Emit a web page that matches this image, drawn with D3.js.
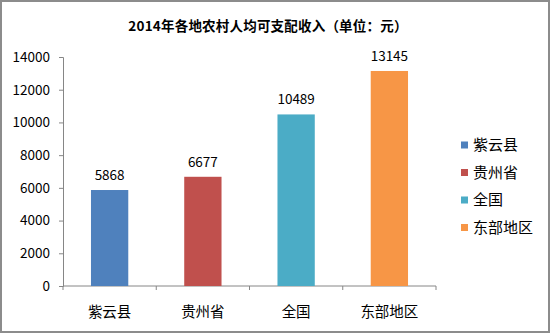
<!DOCTYPE html>
<html>
<head>
<meta charset="utf-8">
<script src="https://cdn.jsdelivr.net/npm/d3@7"></script>
<style>
  html, body { margin: 0; padding: 0; background: #fff; }
  svg { display: block; }
</style>
</head>
<body>
<svg id="chart" width="550" height="333"></svg>
<script>
// Rural per-capita disposable income, 2014 (yuan)
const categories = ["紫云县", "贵州省", "全国", "东部地区"];
const incomes = [5868, 6677, 10489, 13145];
const barColors = ["#4F81BD", "#C0504D", "#4BACC6", "#F79646"];
const yTicks = [0, 2000, 4000, 6000, 8000, 10000, 12000, 14000];
const titleText = "2014年各地农村人均可支配收入（单位：元）";

const W = 550, H = 333;
const margin = { left: 63, right: 114, top: 57, bottom: 47 };
const svg = d3.select("#chart");
const font = "'Noto Sans CJK SC', 'Liberation Sans', sans-serif";

// outer frame
svg.append("rect")
  .attr("x", 1).attr("y", 1).attr("width", W - 2).attr("height", H - 2)
  .attr("fill", "#fff").attr("stroke", "#8c8c8c").attr("stroke-width", 2);

// title
svg.append("text")
  .attr("x", 268).attr("y", 31)
  .attr("text-anchor", "middle")
  .attr("font-family", font).attr("font-weight", "bold")
  .attr("font-size", 13.5).attr("fill", "#000")
  .attr("letter-spacing", 0.2)
  .text(titleText);

const x = d3.scaleBand()
  .domain(categories)
  .range([margin.left, W - margin.right])
  .paddingInner(0.6).paddingOuter(0.3);

// band edges for the category tick marks
const xEdges = d3.scaleBand().domain(categories)
  .range([margin.left, W - margin.right]).padding(0);

const y = d3.scaleLinear().domain([0, 14000]).range([H - margin.bottom, margin.top]);

// y axis
const yAxis = svg.append("g")
  .attr("transform", `translate(${margin.left},0)`)
  .call(d3.axisLeft(y).tickValues(yTicks).tickSize(4).tickPadding(9).tickFormat(d3.format("d")));
yAxis.select(".domain").attr("stroke", "#868686");
yAxis.selectAll(".tick line").attr("stroke", "#868686");
yAxis.selectAll(".tick text")
  .attr("font-family", font).attr("font-size", 13.5).attr("fill", "#000");

// x axis
const xAxisY = y(0);
const xg = svg.append("g");
xg.append("line")
  .attr("x1", margin.left).attr("x2", W - margin.right)
  .attr("y1", xAxisY).attr("y2", xAxisY)
  .attr("stroke", "#868686");
const edges = categories.map(c => xEdges(c)).concat([W - margin.right]);
xg.selectAll("line.tk").data(edges).join("line").attr("class", "tk")
  .attr("x1", d => d).attr("x2", d => d)
  .attr("y1", xAxisY).attr("y2", xAxisY + 4)
  .attr("stroke", "#868686");
xg.selectAll("text").data(categories).join("text")
  .attr("x", d => xEdges(d) + xEdges.bandwidth() / 2)
  .attr("y", xAxisY + 31)
  .attr("text-anchor", "middle")
  .attr("font-family", font).attr("font-size", 14.5).attr("fill", "#000")
  .text(d => d);

// bars
svg.append("g").selectAll("rect").data(categories).join("rect")
  .attr("x", d => x(d))
  .attr("width", x.bandwidth())
  .attr("y", (d, i) => y(incomes[i]))
  .attr("height", (d, i) => y(0) - y(incomes[i]))
  .attr("fill", (d, i) => barColors[i]);

// value labels
svg.append("g").selectAll("text").data(categories).join("text")
  .attr("x", d => x(d) + x.bandwidth() / 2)
  .attr("y", (d, i) => y(incomes[i]) - 10)
  .attr("text-anchor", "middle")
  .attr("font-family", font).attr("font-size", 13.5).attr("fill", "#000")
  .text((d, i) => incomes[i]);

// legend
const legend = svg.append("g").attr("transform", "translate(461,0)");
const rows = legend.selectAll("g").data(categories).join("g")
  .attr("transform", (d, i) => `translate(0,${145 + i * 27.5})`);
rows.append("rect")
  .attr("x", 0).attr("y", -3.5).attr("width", 7).attr("height", 7)
  .attr("fill", (d, i) => barColors[i]);
rows.append("text")
  .attr("x", 12).attr("y", 0).attr("dy", "0.36em")
  .attr("font-family", font).attr("font-size", 15).attr("fill", "#000")
  .text(d => d);
</script>
</body>
</html>
